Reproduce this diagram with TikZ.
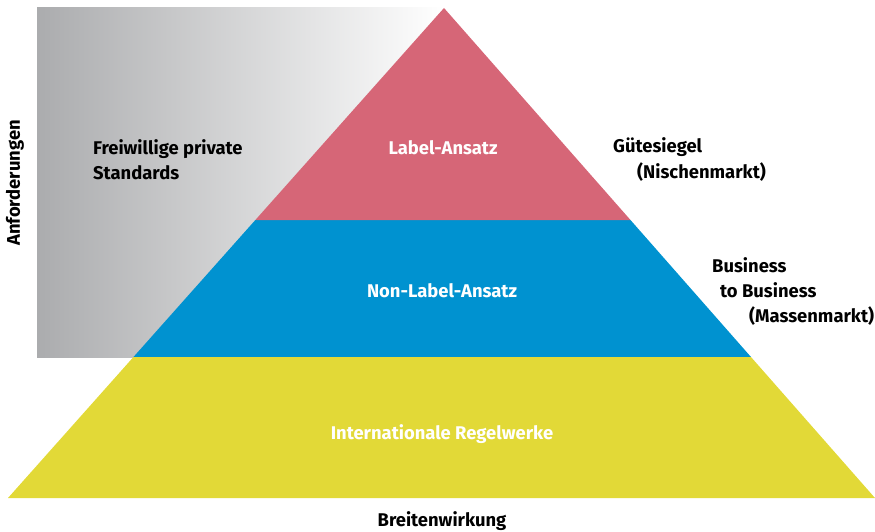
\documentclass[tikz,border=0pt]{standalone}
\usepackage{fontspec}
\setmainfont{Fira Sans}
\usetikzlibrary{calc}
\definecolor{pinkc}{HTML}{D66677}
\definecolor{bluec}{HTML}{0092D0}
\definecolor{yellowc}{HTML}{E2D937}
\definecolor{grayc}{HTML}{ABACAE}
\begin{document}
\begin{tikzpicture}[x=1pt,y=-1pt,
  lbl/.style={font=\bfseries\fontsize{18.4}{25}\selectfont, inner sep=0pt, align=left},
  inlbl/.style={lbl, text=white},
]
\useasboundingbox (0,0) rectangle (875,532);
\coordinate (A) at (444,8);
\coordinate (BL) at (8,498);
\coordinate (BR) at (875,498);
\coordinate (L1) at ($(A)!0.4327!(BL)$);
\coordinate (R1) at ($(A)!0.4327!(BR)$);
\coordinate (L2) at ($(A)!0.7122!(BL)$);
\coordinate (R2) at ($(A)!0.7122!(BR)$);
% gradient background
\shade[left color=grayc, right color=white] (37,8) rectangle (444,357);
% pyramid layers
\fill[yellowc] (L2) -- (R2) -- (BR) -- (BL) -- cycle;
\fill[bluec] (L1) -- (R1) -- (R2) -- (L2) -- cycle;
\fill[pinkc] (A) -- (R1) -- (L1) -- cycle;
% labels
\node[lbl, rotate=90, anchor=center] (anf) at (15,183) {Anforderungen};
\node[lbl, anchor=base west] (frei) at (93,179) {Freiwillige private\\Standards};
\node[inlbl, anchor=base] (label) at (443,154) {Label-Ansatz};
\node[lbl, anchor=base west] (guete) at (613,178) {Gütesiegel\\\hspace*{24pt}(Nischenmarkt)};
\node[inlbl, anchor=base] (nonlabel) at (442,297) {Non-Label-Ansatz};
\node[lbl, anchor=base west] (b2b) at (712,322) {Business\\\hspace*{8pt}to Business\\\hspace*{37pt}(Massenmarkt)};
\node[inlbl, anchor=base] (intl) at (442,439) {Internationale Regelwerke};
\node[lbl, anchor=base] (breit) at (442,526) {Breitenwirkung};
\end{tikzpicture}
\end{document}
